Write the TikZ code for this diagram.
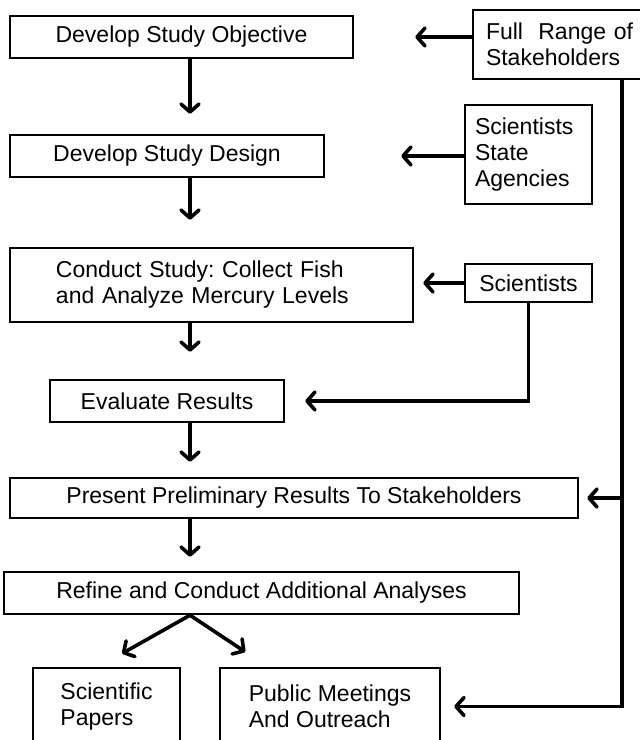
\documentclass[tikz,border=0pt]{standalone}
\usepackage{fontspec}
\setmainfont{Liberation Sans}
\usetikzlibrary{arrows.meta,positioning}
\frenchspacing

\begin{document}
\begin{tikzpicture}[
    x=1pt, y=-1pt,
    >={Straight Barb[length=8pt,width=18pt,round]},
    font=\fontsize{23}{26}\selectfont,
    block/.style={
		rectangle,
		draw=black,
		line width=2.4pt,
		inner sep=0pt,
		text centered,
		fill=white
	},
	flow/.style={
		line width=3.6pt,
		->
	}
  ]
  \useasboundingbox (0,0) rectangle (640,740);
  \clip (0,0) rectangle (640,740);

    % We start by placing the blocks
  \node [block, minimum width=343pt, minimum height=42pt] (objective) at (181.5,37)
 {Develop Study Objective};

  \node [block, minimum width=314pt, minimum height=42pt] (design) at (167,156)
 {Develop Study Design};

  \node [block, align=left, text width=311pt, inner xsep=46pt, minimum height=74pt] (conduct) at (211.5,285)
 {Conduct Study: Collect Fish\\and Analyze Mercury Levels};

  \node [block, minimum width=234pt, minimum height=42pt] (evaluate) at (167,401)
 {Evaluate Results};

  \node [block, minimum width=568pt, minimum height=40pt] (present) at (294,498)
 {Present Preliminary Results To Stakeholders};

  \node [block, minimum width=515pt, minimum height=42pt] (refine) at (261.5,593)
 {Refine and Conduct Additional Analyses};

  \node [block, align=left, minimum width=147pt, minimum height=77pt] (papers) at (106.5,706.5)
 {Scientific\\Papers};

  \node [block, align=left, minimum width=220pt, minimum height=77pt] (outreach) at (330,706.5)
 {Public Meetings\\And Outreach};

  % the groups on the right
  \node [block, align=left, text width=161pt, inner xsep=13pt, minimum height=69pt] (stakeholders) at (566.5,44.5)
 {Full\ \ Range of\\Stakeholders};

  \node [block, align=left, text width=107pt, inner xsep=10pt, minimum height=99pt] (agencies) at (528.5,154.5)
 {Scientists\\State\\Agencies};

  \node [block, minimum width=127pt, minimum height=38pt] (scientists) at (528.5,283)
 {Scientists};

 \coordinate (axis) at (190,0);
 \coordinate (rail) at (622,0);
 \coordinate (fork) at (refine.south -| axis);

 % main flow
 \draw [flow, shorten >=20pt] (objective.south -| axis) -- (design.north -| axis);
 \draw [flow, shorten >=27pt] (design.south -| axis) -- (conduct.north -| axis);
 \draw [flow, shorten >=27pt] (conduct.south -| axis) -- (evaluate.north -| axis);
 \draw [flow, shorten >=15pt] (evaluate.south -| axis) -- (present.north -| axis);
 \draw [flow, shorten >=14pt] (present.south -| axis) -- (refine.north -| axis);
 \draw [flow, shorten >=27pt] (fork) -- ([xshift=-8pt]papers.north);
 \draw [flow, shorten >=27pt] (fork) -- ([xshift=49pt]outreach.north west);

 % inputs from the right
 \draw [flow, shorten >=61pt] (stakeholders.west |- objective.east) -- (objective.east);
 \draw [flow, shorten >=76pt] (agencies.west |- design.east) -- (design.east);
 \draw [flow, shorten >=9pt] (scientists.west) -- (scientists.west -| conduct.east);
 \draw [flow, shorten >=20pt] (scientists.south) |- (evaluate.east);
 \draw [flow, shorten >=13pt] (stakeholders.south -| rail) |- (outreach.east);
 \draw [flow, shorten >=8pt] (present.east -| rail) -- (present.east);

\end{tikzpicture}
\end{document}
